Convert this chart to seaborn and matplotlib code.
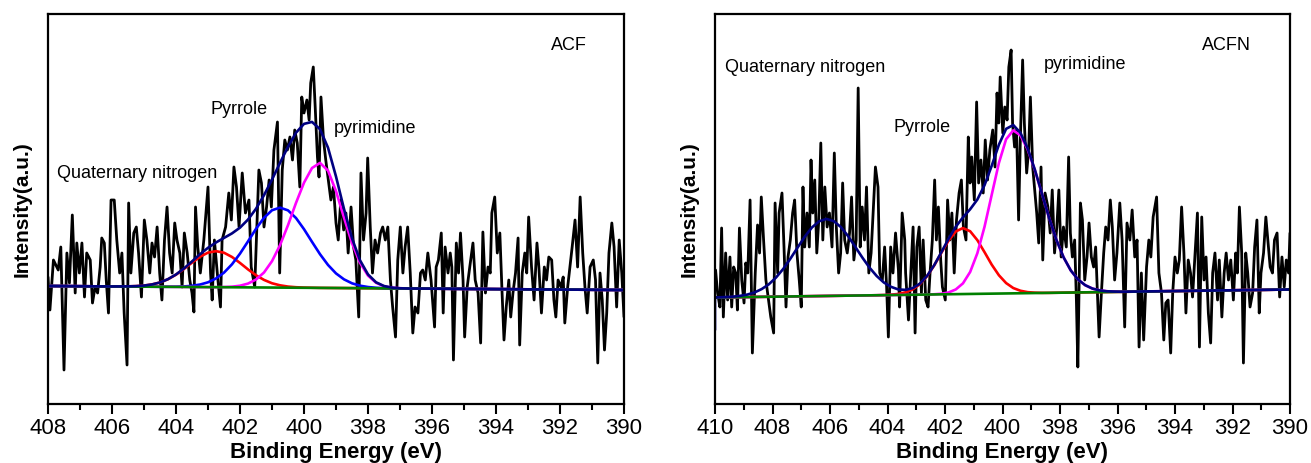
import numpy as np
import pandas as pd
import matplotlib
matplotlib.use('Agg')
import matplotlib.pyplot as plt
from matplotlib.ticker import MultipleLocator
import seaborn as sns

# ── N1s raw spectra ─────────────────────────────────────────────────────────
acf_energy = [
    408.00, 407.94, 407.83, 407.68, 407.60, 407.50, 407.41, 407.33, 407.24, 407.15, 407.10,
    407.02, 406.94, 406.86, 406.79, 406.68, 406.61, 406.53, 406.45, 406.37, 406.32,
    406.24, 406.18, 406.11, 406.03, 405.93, 405.85, 405.76, 405.69, 405.62, 405.53,
    405.48, 405.41, 405.32, 405.24, 405.17, 405.08, 404.99, 404.91, 404.82, 404.75,
    404.67, 404.59, 404.51, 404.44, 404.36, 404.28, 404.20, 404.12, 404.04, 403.97,
    403.88, 403.81, 403.74, 403.65, 403.57, 403.50, 403.44, 403.39, 403.32, 403.24,
    403.13, 403.00, 402.92, 402.87, 402.80, 402.71, 402.61, 402.56, 402.45, 402.35,
    402.27, 402.19, 402.11, 402.03,
    401.93, 401.83, 401.72, 401.65, 401.54, 401.48, 401.41, 401.33, 401.25, 401.17,
    401.09, 401.02, 400.94, 400.83, 400.76, 400.68, 400.60, 400.52, 400.44, 400.36,
    400.29, 400.21, 400.13, 400.07, 400.00, 399.91, 399.84, 399.79, 399.71, 399.65,
    399.58, 399.53, 399.47, 399.39, 399.32, 399.24, 399.16, 399.08, 399.00, 398.93,
    398.85, 398.76, 398.69, 398.62, 398.53, 398.45, 398.38, 398.29, 398.22, 398.14,
    398.06, 398.01, 397.93, 397.86, 397.78, 397.70, 397.61, 397.54, 397.46, 397.38,
    397.30, 397.23, 397.14, 397.07, 396.99, 396.91, 396.84, 396.76, 396.68, 396.60,
    396.53, 396.44, 396.36, 396.29, 396.21, 396.13,
    396.03, 395.92, 395.87, 395.80, 395.71, 395.65, 395.59, 395.50, 395.43, 395.38,
    395.33, 395.24, 395.17, 395.11, 395.03, 394.98, 394.90, 394.82, 394.72, 394.65,
    394.56, 394.48, 394.41, 394.33, 394.25, 394.18, 394.13, 394.04, 393.96, 393.88,
    393.81, 393.75, 393.68, 393.60, 393.54, 393.47, 393.39, 393.31, 393.26, 393.18,
    393.10, 393.04, 392.98, 392.89, 392.81, 392.72, 392.66, 392.58, 392.49, 392.42,
    392.35, 392.26, 392.19, 392.13, 392.06, 391.97, 391.90, 391.85, 391.76, 391.69,
    391.62, 391.53, 391.45, 391.37, 391.29, 391.22, 391.15, 391.06, 390.96, 390.89,
    390.82, 390.75, 390.68, 390.61, 390.54, 390.47, 390.38, 390.31, 390.23, 390.15,
    390.07, 390.00]
acf_counts = [
    125, 92, 142, 132, 155, 32, 149, 119, 187, 109, 159,
    129, 159, 105, 149, 142, 99, 115, 109, 135, 164,
    159, 122, 89, 202, 202, 162, 129, 149, 89, 37,
    199, 129, 169, 175, 149, 105, 182, 162, 129, 159,
    145, 175, 129, 102, 162, 195, 149, 129, 179, 162,
    149, 115, 169, 149, 122, 109, 90, 195, 155, 129,
    162, 215, 129, 102, 162, 129, 95, 162, 175, 209,
    182, 235, 215, 175,
    229, 189, 202, 135, 115, 169, 232, 219, 175, 195,
    222, 195, 252, 280, 129, 232, 262, 252, 265, 242,
    272, 259, 215, 305, 289, 302, 282, 319, 335, 295,
    245, 225, 305, 262, 242, 222, 202, 215, 179, 162,
    202, 172, 189, 149, 195, 155, 142, 85, 229, 162,
    189, 244, 175, 129, 162, 149, 169, 175, 162, 175,
    122, 95, 65, 142, 175, 129, 155, 175, 129, 69,
    95, 89, 129, 132, 122, 149,
    122, 75, 135, 142, 169, 89, 155, 129, 149, 135,
    42, 159, 129, 169, 122, 65, 115, 135, 159, 122,
    109, 59, 170, 109, 135, 129, 189, 205, 149, 169,
    109, 62, 95, 122, 85, 109, 129, 164, 57, 129,
    149, 129, 185, 135, 102, 159, 135, 89, 135, 122,
    145, 142, 102, 85, 122, 115, 125, 79, 115, 135,
    155, 182, 135, 205, 149, 115, 89, 135, 142, 122,
    39, 129, 102, 52, 89, 149, 179, 155, 95, 162,
    129, 85]

acfn_energy = [
    409.98, 409.91, 409.83, 409.77, 409.71, 409.63, 409.56, 409.48, 409.42, 409.35,
    409.28, 409.22, 409.15, 409.07, 408.99, 408.93, 408.86, 408.78, 408.70, 408.60,
    408.52, 408.45, 408.39, 408.31, 408.23, 408.14, 408.06, 407.96, 407.91, 407.82,
    407.77, 407.67, 407.60, 407.53, 407.46, 407.38, 407.30, 407.23, 407.15, 407.07,
    407.00, 406.94, 406.88, 406.80, 406.72, 406.66, 406.60, 406.53, 406.46, 406.39,
    406.32, 406.25, 406.18, 406.10, 406.02, 405.93, 405.85, 405.78, 405.70, 405.63,
    405.56, 405.49, 405.40, 405.32, 405.25, 405.17, 405.09, 405.02, 404.95, 404.88,
    404.80, 404.73, 404.65, 404.57, 404.50, 404.42, 404.33, 404.27, 404.18, 404.10,
    404.03, 403.97, 403.89, 403.81, 403.72, 403.62, 403.58, 403.49, 403.40,
    403.37, 403.27, 403.19, 403.11, 403.04, 402.98, 402.90, 402.82, 402.76, 402.67,
    402.59, 402.52, 402.44, 402.36, 402.30, 402.23, 402.15, 402.09, 401.99, 401.91,
    401.83, 401.76, 401.68, 401.60, 401.51, 401.43, 401.36, 401.27, 401.19, 401.13,
    401.07, 400.98, 400.90, 400.83, 400.75, 400.67, 400.60, 400.52, 400.44, 400.34,
    400.26, 400.19, 400.13, 400.08, 399.99, 399.92, 399.84, 399.78, 399.70, 399.65,
    399.58, 399.51, 399.44, 399.38, 399.30, 399.24, 399.16, 399.09, 399.03, 398.95,
    398.88, 398.81, 398.74, 398.66, 398.60, 398.52, 398.42, 398.34, 398.27, 398.19,
    398.11, 398.04, 397.96, 397.88, 397.78, 397.70, 397.64, 397.57, 397.49, 397.43,
    397.38, 397.29, 397.22, 397.14, 397.06, 396.99, 396.91, 396.83, 396.76,
    396.64, 396.56, 396.48, 396.41, 396.33, 396.25, 396.18, 396.10, 396.02, 395.92,
    395.84, 395.75, 395.67, 395.57, 395.49, 395.40, 395.32, 395.25, 395.17, 395.09,
    394.99, 394.91, 394.84, 394.76, 394.64, 394.56, 394.47, 394.39, 394.32, 394.24,
    394.15, 394.08, 394.00, 393.92, 393.85, 393.77, 393.69, 393.62, 393.54, 393.46,
    393.39, 393.30, 393.22, 393.15, 393.07, 392.99, 392.92, 392.84, 392.76, 392.69,
    392.61, 392.52, 392.46, 392.37, 392.29, 392.22, 392.14, 392.06, 391.97, 391.89,
    391.83, 391.76, 391.68, 391.62, 391.54, 391.47, 391.39, 391.30, 391.23, 391.15,
    391.07, 391.01, 390.92, 390.84, 390.77, 390.69, 390.61, 390.54, 390.45, 390.36,
    390.28, 390.20, 390.13, 390.05, 390.00]
acfn_counts = [
    132, 109, 95, 174, 85, 149, 102, 145, 95, 135,
    129, 92, 174, 122, 99, 139, 129, 202, 49, 129,
    177, 149, 205, 162, 122, 102, 85, 69, 199, 129,
    189, 209, 155, 95, 145, 162, 189, 202, 149, 122,
    95, 215, 155, 189, 155, 242, 189, 222, 149, 182,
    259, 162, 215, 175, 189, 155, 249, 175, 129, 149,
    219, 162, 149, 169, 205, 142, 162, 314, 155, 195,
    162, 215, 129, 149, 189, 235, 215, 129, 122, 155,
    115, 65, 155, 129, 169, 132, 95, 189, 162,
    129, 82, 129, 175, 69, 155, 175, 109, 162, 102,
    95, 129, 162, 222, 162, 195, 142, 115, 102, 202,
    162, 189, 129, 182, 209, 222, 175, 162, 265, 219,
    245, 202, 300, 219, 242, 209, 262, 222, 252, 272,
    235, 309, 279, 325, 269, 295, 282, 335, 352, 279,
    255, 272, 182, 262, 342, 279, 229, 252, 305, 235,
    212, 189, 159, 235, 142, 209, 195, 169, 212, 149,
    175, 212, 145, 175, 155, 245, 169, 145, 162, 102,
    35, 199, 182, 122, 145, 179, 145, 135, 155,
    65, 109, 149, 175, 162, 202, 175, 122, 149, 199,
    162, 75, 179, 162, 192, 145, 162, 55, 129, 62,
    135, 162, 145, 185, 205, 129, 109, 62, 99, 102,
    49, 109, 145, 129, 142, 195, 149, 89, 142, 129,
    105, 149, 189, 55, 185, 122, 145, 89, 59, 129,
    149, 102, 142, 85, 129, 149, 122, 142, 102, 149,
    129, 195, 149, 39, 149, 129, 95, 109, 155, 182,
    89, 129, 149, 185, 162, 135, 129, 162, 169, 105,
    145, 115, 142, 129, 169]

# ── Peak-fit components (height above background) ────
acf_fit_energy = [
    408.0, 406.0, 405.75, 405.5, 405.25, 405.0, 404.75, 404.5, 404.25, 404.0,
    403.75, 403.5, 403.25, 403.0, 402.75, 402.5, 402.25, 402.0, 401.75, 401.5,
    401.25, 401.0, 400.75, 400.5, 400.25, 400.0, 399.75, 399.5, 399.25, 399.0,
    398.75, 398.5, 398.25, 398.0, 397.75, 397.5, 397.25, 397.0, 396.75, 396.5,
    390.0]
acf_quaternary = [
    0, 0, 0.1, 0.2, 0.5, 1.1, 2.3, 4.3, 7.6, 12.2,
    18.0, 24.4, 30.3, 34.5, 36.0, 34.5, 30.3, 24.4, 18.0, 12.2,
    7.6, 4.3, 2.3, 1.1, 0.5, 0.2, 0.1, 0, 0, 0,
    0, 0, 0, 0, 0, 0, 0, 0, 0, 0,
    0]
acf_pyrrole = [
    0, 0, 0, 0, 0, 0, 0, 0, 0.1, 0.2,
    0.5, 1.2, 2.5, 4.8, 8.7, 14.6, 23.0, 33.7, 46.0, 58.6,
    69.7, 77.3, 80.0, 77.3, 69.7, 58.6, 46.0, 33.7, 23.0, 14.6,
    8.7, 4.8, 2.5, 1.2, 0.5, 0.2, 0.1, 0, 0, 0,
    0]
acf_pyrimidine = [
    0, 0, 0, 0, 0, 0, 0, 0, 0, 0,
    0, 0, 0, 0, 0, 0.2, 0.6, 1.6, 3.8, 7.9,
    15.0, 26.4, 42.4, 62.5, 84.8, 105.1, 119.8, 125.0, 117.3, 96.9,
    70.4, 45.0, 25.4, 12.6, 5.5, 2.1, 0.7, 0.2, 0, 0,
    0]
acf_bg_energy = [408.0, 390.0]
acf_bg = [116, 112]

acfn_fit_energy = [
    410.0, 409.875, 409.625, 409.375, 409.125, 408.875, 408.625, 408.375, 408.125, 407.875,
    407.625, 407.375, 407.125, 406.875, 406.625, 406.375, 406.125, 405.875, 405.625, 405.375,
    405.125, 404.875, 404.625, 404.375, 404.125, 403.875, 403.625, 403.375, 403.125, 402.875,
    402.625, 402.375, 402.125, 401.875, 401.625, 401.375, 401.125, 400.875, 400.625, 400.375,
    400.125, 399.875, 399.625, 399.375, 399.125, 398.875, 398.625, 398.375, 398.125, 397.875,
    397.625, 397.375, 397.125, 396.875, 396.625, 396.375, 396.125, 395.875, 390.0]
acfn_quaternary = [
    0.1, 0.1, 0.3, 0.6, 1.3, 2.5, 4.5, 7.8, 12.5, 19.2,
    27.7, 37.9, 48.9, 59.7, 68.8, 74.8, 77.0, 74.8, 68.8, 59.7,
    48.9, 37.9, 27.7, 19.2, 12.5, 7.8, 4.5, 2.5, 1.3, 0.6,
    0.3, 0.1, 0, 0, 0, 0, 0, 0, 0, 0,
    0, 0, 0, 0, 0, 0, 0, 0, 0, 0,
    0, 0, 0, 0, 0, 0, 0, 0, 0]
acfn_pyrrole = [
    0, 0, 0, 0, 0, 0, 0, 0, 0, 0,
    0, 0, 0, 0, 0, 0, 0, 0, 0, 0,
    0, 0, 0, 0, 0.1, 0.4, 1.0, 2.5, 5.3, 10.4,
    18.3, 29.0, 41.6, 53.7, 62.7, 66.0, 62.7, 53.7, 41.6, 29.0,
    18.3, 10.4, 5.3, 2.5, 1.0, 0.4, 0.1, 0, 0, 0,
    0, 0, 0, 0, 0, 0, 0, 0, 0]
acfn_pyrimidine = [
    0, 0, 0, 0, 0, 0, 0, 0, 0, 0,
    0, 0, 0, 0, 0, 0, 0, 0, 0, 0,
    0, 0, 0, 0, 0, 0, 0, 0, 0, 0,
    0, 0.2, 0.6, 1.8, 4.7, 10.7, 22.0, 40.6, 67.0, 98.9,
    130.6, 154.2, 163.0, 157.9, 143.8, 123.0, 98.9, 74.6, 52.9, 35.3,
    22.1, 13.0, 7.2, 3.7, 1.8, 0.8, 0.4, 0.1, 0]
acfn_bg_energy = [410.0, 390.0]
acfn_bg = [104.5, 112.5]
acfn_env_edge = [410.0, 72]   # envelope starts below background at the window edge

# ── Style ────────────────────────────────────────────────────────────────────
sns.set_style('ticks')
plt.rcParams['font.family'] = ['Liberation Sans', 'DejaVu Sans']
plt.rcParams.update({'text.color': 'black', 'axes.labelcolor': 'black',
                     'xtick.color': 'black', 'ytick.color': 'black'})

C_RAW, C_BG, C_ENV = 'black', '#008000', '#000080'
C_RED, C_BLUE, C_MAG = '#ff0000', '#0000ff', '#ff00ff'

fig = plt.figure(figsize=(13.11, 4.63), dpi=100)
ax1 = fig.add_axes([48 / 1311, 59 / 463, 576 / 1311, 390 / 463])
ax2 = fig.add_axes([715 / 1311, 59 / 463, 575 / 1311, 390 / 463])


def draw_panel(ax, energy, counts, fit_e, comps, bg_e, bg_i, xlim, edge=None):
    fit_e = np.asarray(fit_e)
    bg = np.interp(fit_e, bg_e[::-1], bg_i[::-1])

    raw = pd.DataFrame({'energy': energy, 'counts': counts})
    sns.lineplot(data=raw, x='energy', y='counts', ax=ax, color=C_RAW,
                 lw=2.0, estimator=None, sort=False)

    # components first, background over their tails, envelope on top
    env = bg.copy()
    for heights, col in comps:
        env = env + np.asarray(heights)
        if col is not None:
            sns.lineplot(x=fit_e, y=bg + np.asarray(heights), ax=ax, color=col,
                         lw=1.9, estimator=None, sort=False)
    sns.lineplot(x=bg_e, y=bg_i, ax=ax, color=C_BG, lw=1.9, estimator=None, sort=False)
    env_x, env_y = list(fit_e), list(env)
    if edge is not None:
        env_x, env_y = [edge[0]] + env_x, [edge[1]] + env_y
    sns.lineplot(x=env_x, y=env_y, ax=ax, color=C_ENV, lw=1.9, estimator=None, sort=False)

    ax.set_xlim(*xlim)
    ax.set_ylim(-2, 388)
    ax.set_yticks([])
    ax.xaxis.set_major_locator(MultipleLocator(2))
    ax.xaxis.set_minor_locator(MultipleLocator(1))
    ax.tick_params(axis='x', which='major', direction='out', length=7, width=1.5,
                   labelsize=16, pad=3, top=False)
    ax.tick_params(axis='x', which='minor', direction='out', length=4, width=1.5, top=False)
    for sp in ax.spines.values():
        sp.set_linewidth(1.6)
        sp.set_color('black')
    ax.set_xlabel('Binding Energy (eV)', fontsize=16, fontweight='bold', labelpad=2)
    ax.set_ylabel('Intensity(a.u.)', fontsize=15, fontweight='bold', labelpad=12)


draw_panel(ax1, acf_energy, acf_counts, acf_fit_energy,
           [(acf_quaternary, C_RED), (acf_pyrrole, C_BLUE), (acf_pyrimidine, C_MAG)],
           acf_bg_energy, acf_bg, (408, 390))
draw_panel(ax2, acfn_energy, acfn_counts, acfn_fit_energy,
           [(acfn_quaternary, None), (acfn_pyrrole, C_RED), (acfn_pyrimidine, C_MAG)],
           acfn_bg_energy, acfn_bg, (410, 390), edge=acfn_env_edge)

txt = dict(fontsize=13, va='center', ha='left')
ax1.text(407.72, 229, 'Quaternary nitrogen', **txt)
ax1.text(402.92, 293, 'Pyrrole', **txt)
ax1.text(399.07, 274, 'pyrimidine', **txt)
ax1.text(391.73, 357, 'ACF', fontsize=13, va='center', ha='center')

ax2.text(409.65, 335, 'Quaternary nitrogen', **txt)
ax2.text(403.79, 275, 'Pyrrole', **txt)
ax2.text(398.55, 338, 'pyrimidine', **txt)
ax2.text(392.2, 357, 'ACFN', fontsize=13, va='center', ha='center')

fig.savefig('out.png', dpi=100)
